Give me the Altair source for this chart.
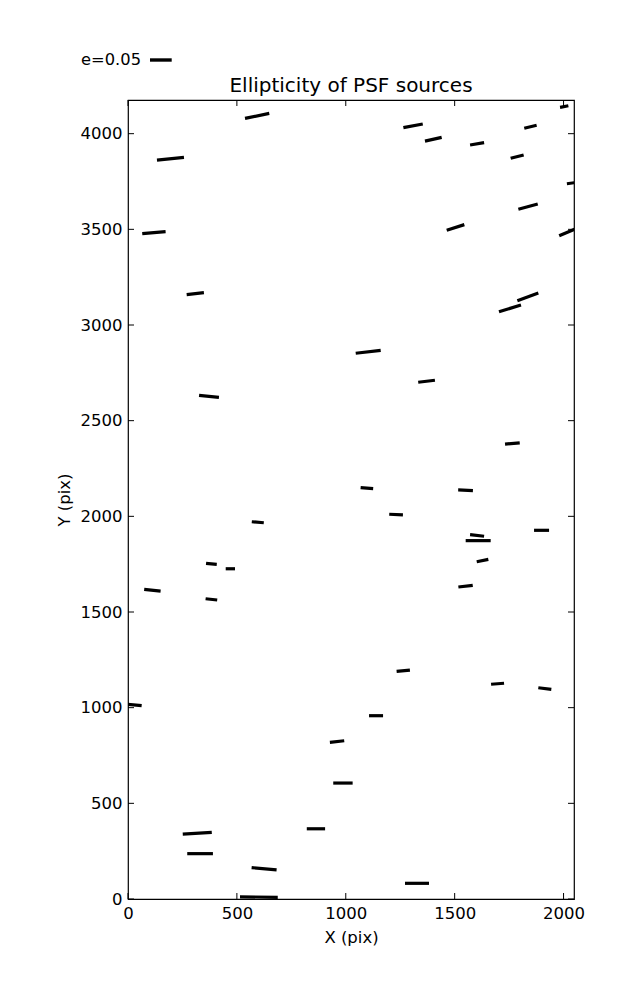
import altair as alt
import pandas as pd

# chip geometry (pixels) and whisker scaling
X_MAX = 2048
Y_MAX = 4176
W, H = 446, 799
PX_PER_E = 434.0   # screen length of a whisker for e = 1
KEY_E = 0.05

# whisker centres (pix), ellipticity and screen angle (deg, ccw from +x)
xc = [593, 195, 119, 309, 2003, 1309, 1848, 1402, 1603, 1787, 2045, 1837, 1504, 2035,
      1836, 1754, 1103, 1371, 1765, 1097, 1550, 372, 596, 383, 470, 112, 383, 25,
      1231, 1603, 1608, 1899, 1628, 1550, 1264, 1697, 1914, 960, 987, 318, 331, 863,
      625, 601, 1139, 1327]
yc = [4093, 3869, 3483, 3164, 4142, 4041, 4036, 3971, 3947, 3880, 3743, 3619, 3510, 3493,
      3147, 3087, 2860, 2706, 2381, 2147, 2136, 2627, 1969, 1752, 1726, 1614, 1566, 1015,
      2009, 1900, 1873, 1927, 1769, 1635, 1193, 1125, 1100, 823, 606, 344, 237, 367,
      158, 10, 958, 82]
ell = [0.057, 0.0625, 0.054, 0.040, 0.0195, 0.0455, 0.0294, 0.0394, 0.0327, 0.0309, 0.030,
       0.0463, 0.0426, 0.060, 0.0515, 0.053, 0.058, 0.0388, 0.034, 0.029, 0.034, 0.046,
       0.0277, 0.0248, 0.0214, 0.038, 0.0269, 0.038, 0.0316, 0.0325, 0.0576, 0.0346,
       0.0273, 0.0334, 0.0308, 0.030, 0.0302, 0.0332, 0.0447, 0.067, 0.0592, 0.0422,
       0.0578, 0.087, 0.0323, 0.0553]
theta = [11.6, 5.7, 4.9, 6.6, 10.9, 10.8, 13.6, 12.5, 9.3, 14.2, 8, 15.3, 17.6, 23,
         20.1, 16.9, 6.8, 6.8, 5.1, -4.5, -2.7, -5.7, -4.8, -5.3, 0, -5.9, -6.4, -5.5,
         -2.9, -6.5, 0, 0, 11.7, 6.7, 5.6, 4.4, -7, 6.4, 0, 3.4, 0, 0,
         -5.3, -0.9, 0, 0]

x_ticks = [0, 500, 1000, 1500, 2000]
y_ticks = [0, 500, 1000, 1500, 2000, 2500, 3000, 3500, 4000]

df = pd.DataFrame({"x": xc, "y": yc, "e": ell, "theta": theta})

FONT = "DejaVu Sans"
xscale = alt.Scale(domain=[0, X_MAX], nice=False, zero=False)
yscale = alt.Scale(domain=[0, Y_MAX], nice=False, zero=False)
xaxis = alt.Axis(title="X (pix)", values=x_ticks, format="d")
yaxis = alt.Axis(title="Y (pix)", values=y_ticks, format="d")

half = f"datum.e*{PX_PER_E}/2"
whiskers = (
    alt.Chart(df)
    .transform_calculate(
        dx=f"{half}*cos(datum.theta*PI/180)/({W}/{X_MAX})",
        dy=f"{half}*sin(datum.theta*PI/180)/({H}/{Y_MAX})",
    )
    .transform_calculate(
        x1="datum.x - datum.dx", x2="datum.x + datum.dx",
        y1="datum.y - datum.dy", y2="datum.y + datum.dy",
    )
    .mark_rule(color="black", strokeWidth=3.2, clip=True, strokeCap="butt")
    .encode(
        x=alt.X("x1:Q", scale=xscale, axis=xaxis),
        x2="x2:Q",
        y=alt.Y("y1:Q", scale=yscale, axis=yaxis),
        y2="y2:Q",
    )
)

TL = 6
xt = pd.DataFrame({"v": x_ticks})
yt = pd.DataFrame({"v": y_ticks})
tick_style = dict(color="black", strokeWidth=1)
bottom_ticks = alt.Chart(xt).mark_rule(**tick_style).encode(
    x=alt.X("v:Q", scale=xscale, axis=xaxis), y=alt.value(H), y2=alt.value(H - TL))
top_ticks = alt.Chart(xt).mark_rule(**tick_style).encode(
    x=alt.X("v:Q", scale=xscale, axis=xaxis), y=alt.value(0), y2=alt.value(TL))
left_ticks = alt.Chart(yt).mark_rule(**tick_style).encode(
    y=alt.Y("v:Q", scale=yscale, axis=yaxis), x=alt.value(0), x2=alt.value(TL))
right_ticks = alt.Chart(yt).mark_rule(**tick_style).encode(
    y=alt.Y("v:Q", scale=yscale, axis=yaxis), x=alt.value(W), x2=alt.value(W - TL))

# quiver key
key = pd.DataFrame({"label": [f"e={KEY_E}"], "e": [KEY_E]})
key_text = alt.Chart(key).mark_text(
    align="right", baseline="middle", font=FONT, fontSize=16.3, color="black"
).encode(x=alt.value(13), y=alt.value(-40), text="label:N")
key_line = alt.Chart(key).mark_rule(color="black", strokeWidth=3.4).encode(
    x=alt.value(22), x2=alt.value(22 + KEY_E * PX_PER_E), y=alt.value(-40))

chart = (
    alt.layer(whiskers, bottom_ticks, top_ticks, left_ticks, right_ticks, key_text, key_line)
    .properties(
        width=W, height=H,
        title=alt.TitleParams("Ellipticity of PSF sources", font=FONT, fontSize=20,
                              fontWeight="normal", color="black", frame="group",
                              anchor="middle", baseline="alphabetic", offset=7, dy=67),
        padding={"left": 120, "top": 92, "right": 55, "bottom": 90},
        autosize=alt.AutoSizeParams(type="none"),
    )
    .configure_view(stroke="black", strokeWidth=1.2)
    .configure_axis(
        domain=False, ticks=False, grid=False,
        labelFont=FONT, labelFontSize=16.5, labelColor="black", labelPadding=6,
        titleFont=FONT, titleFontSize=16.5, titleFontWeight="normal", titleColor="black",
        titlePadding=8, labelOverlap=False, labelFlush=False,
    )
)

chart.save("out.html", embed_options={"renderer": "svg", "actions": False})
